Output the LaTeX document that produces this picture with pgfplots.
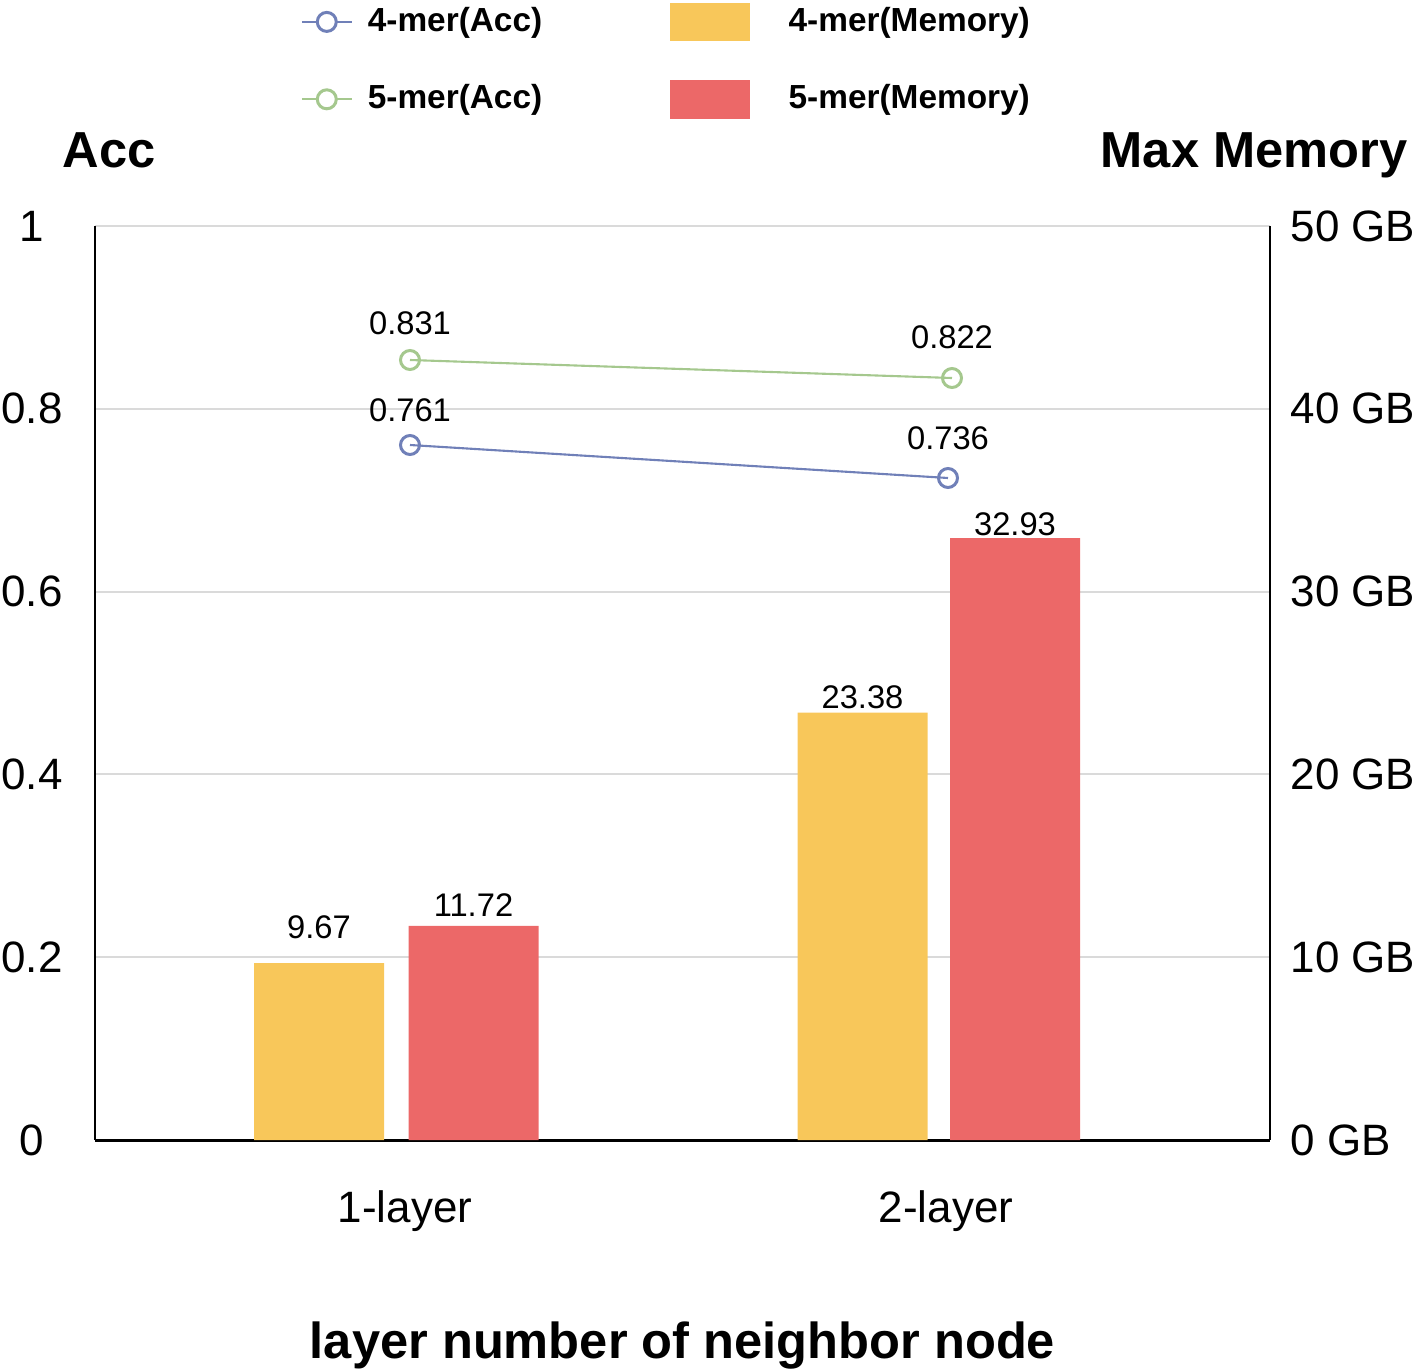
\documentclass[border=0pt]{standalone}
\usepackage{fontspec}
\setmainfont{Liberation Sans}
\usepackage{pgfplots}
\pgfplotsset{compat=1.18}

\definecolor{accblue}{HTML}{7080B8}
\definecolor{accgreen}{HTML}{A5C88E}
\definecolor{memyellow}{HTML}{F8C75A}
\definecolor{memred}{HTML}{EC6868}
\definecolor{gridgray}{HTML}{DADADA}

\newcommand\tickfont{\fontsize{12.5}{15}\selectfont}
\newcommand\labfont{\fontsize{9.3}{11}\selectfont}
\newcommand\legfont{\fontsize{9.5}{11}\selectfont\bfseries}
\newcommand\titfont{\fontsize{14.4}{17}\selectfont\bfseries}

% x positions are in pixels of the original figure
\pgfplotstableread{
x y lab dy
410 0.7604 0.761 0.24
948 0.7243 0.736 0.28
}\fourAcc
\pgfplotstableread{
x y lab dy
410 0.8534 0.831 0.26
952 0.8337 0.822 0.30
}\fiveAcc
\pgfplotstableread{
x y lab dy
319 9.67 9.67 0.25
862.5 23.38 23.38 0.04
}\fourMem
\pgfplotstableread{
x y lab dy
473.5 11.72 11.72 0.09
1015 32.93 32.93 0.03
}\fiveMem

\begin{document}
\begin{tikzpicture}
\path[use as bounding box] (-0.95,-2.30) rectangle (13.22,11.40);

% left axis: accuracy
\begin{axis}[
  scale only axis, width=11.75cm, height=9.14cm,
  xmin=95, xmax=1270, ymin=0, ymax=1,
  axis x line*=bottom, axis y line*=left,
  axis line style={black, line width=0.85pt},
  xtick={405,946}, xticklabels={1-layer,2-layer},
  xticklabel style={font=\tickfont, anchor=base, yshift=-0.82cm, inner sep=0pt},
  ytick={0,0.2,0.4,0.6,0.8,1}, yticklabels={0,0.2,0.4,0.6,0.8,1},
  yticklabel style={font=\tickfont, anchor=center, xshift=-0.63cm, inner sep=0pt},
  major tick length=0pt,
  ymajorgrids, grid style={color=gridgray, line width=0.55pt},
  xlabel={layer number of neighbor node},
  xlabel style={font=\titfont, at={(axis description cs:0.5,0)}, anchor=base, yshift=-2.18cm, inner sep=0pt},
  clip=false,
]
\addplot[color=accgreen, line width=0.6pt, mark=o, mark size=2.7pt,
  mark options={line width=0.85pt, fill=white},
  nodes near coords, point meta=explicit symbolic,
  visualization depends on={\thisrow{dy} \as \dy},
  every node near coord/.append style={anchor=base, yshift=\dy cm, font=\labfont, inner sep=0pt, black}]
  table[x=x, y=y, meta=lab] {\fiveAcc};
\addplot[color=accblue, line width=0.6pt, mark=o, mark size=2.7pt,
  mark options={line width=0.85pt, fill=white},
  nodes near coords, point meta=explicit symbolic,
  visualization depends on={\thisrow{dy} \as \dy},
  every node near coord/.append style={anchor=base, yshift=\dy cm, font=\labfont, inner sep=0pt, black}]
  table[x=x, y=y, meta=lab] {\fourAcc};
\end{axis}

% right axis: max memory
\begin{axis}[
  scale only axis, width=11.75cm, height=9.14cm,
  xmin=95, xmax=1270, ymin=0, ymax=50,
  axis x line=none, axis y line*=right,
  axis line style={black, line width=0.6pt},
  ytick={0,10,20,30,40,50},
  yticklabels={0 GB,10 GB,20 GB,30 GB,40 GB,50 GB},
  yticklabel style={font=\tickfont, anchor=west, xshift=0.2cm, inner sep=0pt},
  major tick length=0pt,
  clip=false,
  legend columns=2,
  legend style={draw=none, fill=none, at={(0.1745,1.2451)}, anchor=north west,
    font=\legfont, inner sep=0pt, row sep=0.39cm,
    nodes={inner sep=0pt},
    /tikz/every odd column/.append style={column sep=0.15cm},
    /tikz/every even column/.append style={column sep=1.28cm}},
  legend cell align=left,
]
\addplot[ybar, bar width=130, bar shift=0pt, fill=memyellow, draw=none,
  nodes near coords, point meta=explicit symbolic,
  visualization depends on={\thisrow{dy} \as \dy},
  every node near coord/.append style={anchor=base, yshift=\dy cm, font=\labfont, inner sep=0pt, black},
  forget plot]
  table[x=x, y=y, meta=lab] {\fourMem};
\addplot[ybar, bar width=130, bar shift=0pt, fill=memred, draw=none,
  nodes near coords, point meta=explicit symbolic,
  visualization depends on={\thisrow{dy} \as \dy},
  every node near coord/.append style={anchor=base, yshift=\dy cm, font=\labfont, inner sep=0pt, black},
  forget plot]
  table[x=x, y=y, meta=lab] {\fiveMem};

\addlegendimage{legend image code/.code={
  \draw[accblue, line width=0.6pt] (0cm,0cm) -- (0.5cm,0cm);
  \draw[accblue, line width=0.85pt, fill=white] (0.25cm,0cm) circle (0.095cm);}}
\addlegendentry{4-mer(Acc)}
\addlegendimage{legend image code/.code={
  \fill[memyellow] (0cm,-0.185cm) rectangle (0.78cm,0.185cm);
  \path (1.02cm,0cm);}}
\addlegendentry{4-mer(Memory)}
\addlegendimage{legend image code/.code={
  \draw[accgreen, line width=0.6pt] (0cm,0cm) -- (0.5cm,0cm);
  \draw[accgreen, line width=0.85pt, fill=white] (0.25cm,0cm) circle (0.095cm);}}
\addlegendentry{5-mer(Acc)}
\addlegendimage{legend image code/.code={
  \fill[memred] (0cm,-0.185cm) rectangle (0.78cm,0.185cm);
  \path (1.02cm,0cm);}}
\addlegendentry{5-mer(Memory)}
\end{axis}

\node[anchor=base west, inner sep=0pt, font=\titfont] at (-0.33,9.72) {Acc};
\node[anchor=base east, inner sep=0pt, font=\titfont] at (13.13,9.72) {Max Memory};
\end{tikzpicture}
\end{document}
